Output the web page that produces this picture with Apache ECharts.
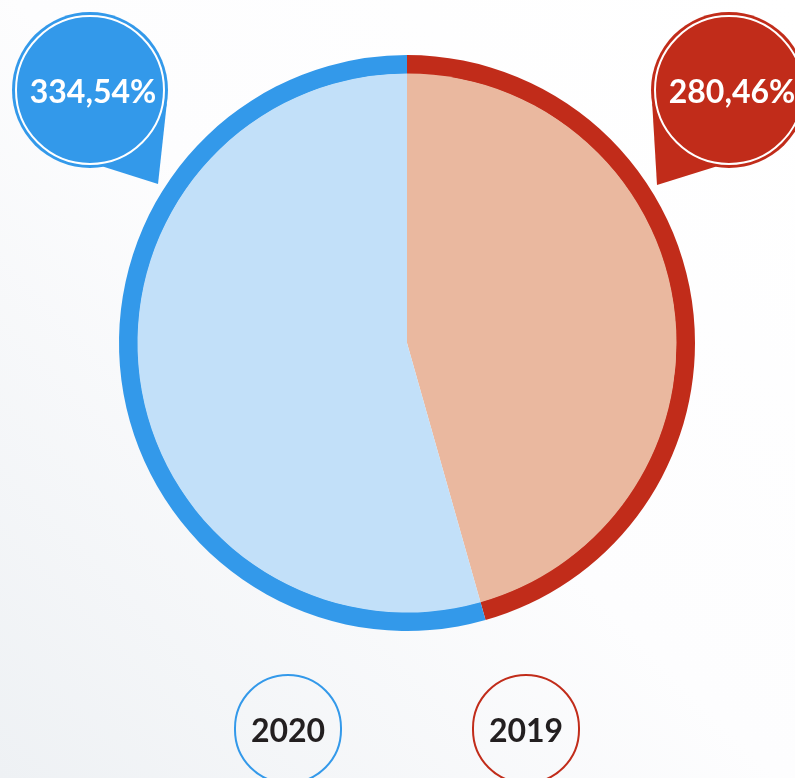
<!DOCTYPE html>
<html><head><meta charset="utf-8">
<script src="https://cdn.jsdelivr.net/npm/echarts@6/dist/echarts.min.js"></script>
<style>html,body{margin:0;padding:0;background:#fff;}#c{width:795px;height:778px;}</style>
</head><body><div id="c"></div>
<script>
// ---- data ----
const categories = ['2019', '2020'];
const values = [280.46, 334.54];
const valueLabels = ['280,46%', '334,54%'];
const legendOrder = ['2020', '2019'];

// ---- styles ----
const darkColors = ['#C12C1A', '#3399EA'];
const lightColors = ['#EAB89F', '#C2E0F9'];
const FONT = 'Lato, "DejaVu Sans", sans-serif';

const chart = echarts.init(document.getElementById('c'), null, {renderer: 'canvas'});

// pin annotation layout (per category): centre, radius, tail tip, tail base angles (deg)
const pinLayout = {
  '2019': {c: [729, 90], r: 78, tip: [657, 185], a: [170, 100]},
  '2020': {c: [90, 90], r: 78, tip: [158, 184], a: [10, 80]}
};

function pin(cat, color, text) {
  const L = pinLayout[cat];
  const [x0, y0] = L.c, rad = L.r, tip = L.tip;
  const pt = a => [x0 + rad * Math.cos(a * Math.PI / 180), y0 + rad * Math.sin(a * Math.PI / 180)];
  const p1 = pt(L.a[0]), p2 = pt(L.a[1]);
  return {
    type: 'group', z: 100,
    children: [
      {type: 'polygon', shape: {points: [tip, p1, [x0, y0], p2]}, style: {fill: color}},
      {type: 'circle', shape: {cx: x0, cy: y0, r: rad}, style: {fill: color}},
      {type: 'circle', shape: {cx: x0, cy: y0, r: rad - 4}, style: {fill: 'none', stroke: '#fff', lineWidth: 2}},
      {type: 'text', x: x0 + 3, y: y0 + 3, style: {text: text, fill: '#fff', font: 'bold 32px ' + FONT, align: 'center', verticalAlign: 'middle'}}
    ]
  };
}

const pieData = (colors) => categories.map((c, i) => ({name: c, value: values[i], itemStyle: {color: colors[i]}}));

const richBox = (border) => ({
  width: 106, height: 102, lineHeight: 102, padding: [6, 0, 0, 0], align: 'center',
  borderColor: border, borderWidth: 2, borderRadius: 56,
  fontSize: 32, fontWeight: 'bold', color: '#231F20', fontFamily: FONT
});

const option = {
  backgroundColor: new echarts.graphic.LinearGradient(1, 0, 0, 1, [
    {offset: 0, color: '#ffffff'},
    {offset: 0.5, color: '#fdfdfe'},
    {offset: 1, color: '#eef1f4'}
  ]),
  animation: false,
  legend: {
    data: legendOrder,
    top: 669,
    left: 225,
    icon: 'circle',
    itemWidth: 0,
    itemHeight: 0,
    itemGap: 126,
    selectedMode: false,
    formatter: n => '{' + (n === '2020' ? 'a' : 'b') + '|' + n + '}',
    textStyle: {rich: {a: richBox(darkColors[1]), b: richBox(darkColors[0])}}
  },
  series: [
    {
      type: 'pie', center: [407, 343], radius: [269, 288], startAngle: 90, clockwise: true,
      label: {show: false}, labelLine: {show: false}, silent: true,
      data: pieData(darkColors)
    },
    {
      type: 'pie', center: [407, 343], radius: [0, 269.5], startAngle: 90, clockwise: true,
      label: {show: false}, labelLine: {show: false}, silent: true,
      data: pieData(lightColors)
    }
  ],
  graphic: categories.map((c, i) => pin(c, darkColors[i], valueLabels[i]))
};
chart.setOption(option);
</script>
</body></html>
